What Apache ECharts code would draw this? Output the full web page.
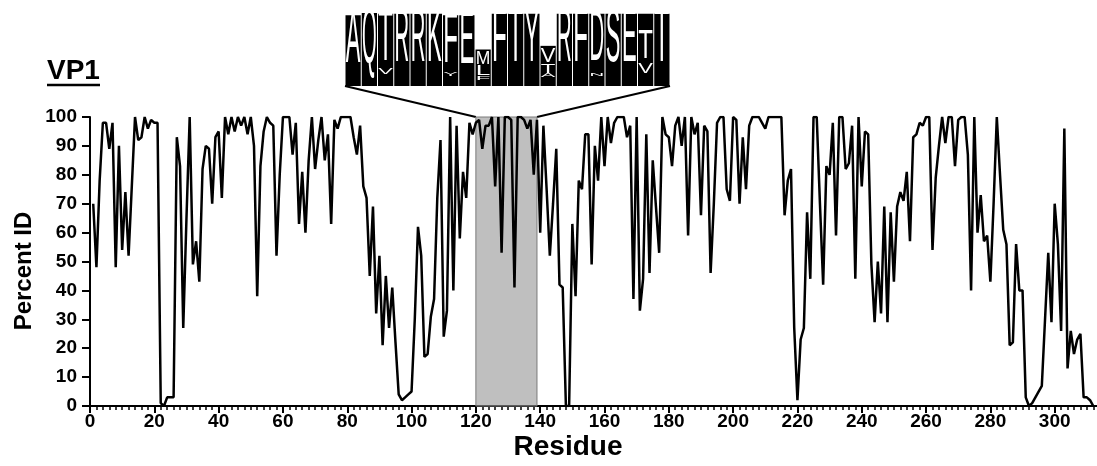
<!DOCTYPE html>
<html>
<head>
<meta charset="utf-8">
<script src="https://cdn.jsdelivr.net/npm/echarts@6/dist/echarts.min.js"></script>
<style>
  html, body { margin: 0; padding: 0; background: #fff; }
  #main { width: 1097px; height: 466px; }
</style>
</head>
<body>
<div id="main"></div>
<script>
// percent identity per residue, starting at residue 1
const firstResidue = 1;
const percentId = [
  70, 48, 78, 98, 98, 89, 98, 48, 90, 54, 74, 52, 76, 100, 92, 93, 100, 96, 99, 98,
  98, 1, 0, 3, 3, 3, 93, 83, 27, 65, 100, 49, 57, 43, 82, 90, 89, 70, 93, 95,
  72, 100, 94, 100, 95, 100, 97, 100, 94, 100, 90, 38, 83, 95, 100, 98, 97, 52, 80, 100,
  100, 100, 87, 98, 63, 81, 60, 85, 100, 82, 92, 100, 85, 94, 63, 99, 96, 100, 100, 100,
  100, 93, 87, 97, 76, 72, 45, 69, 32, 52, 21, 45, 27, 41, 22, 4, 2, 3, 4, 5,
  30, 62, 52, 17, 18, 31, 37, 72, 92, 24, 33, 100, 40, 97, 58, 81, 72, 98, 94, 98,
  99, 89, 97, 97, 100, 76, 100, 53, 100, 100, 99, 41, 100, 100, 99, 96, 99, 80, 99, 60,
  97, 75, 52, 70, 89, 42, 41, 0, 0, 63, 38, 78, 75, 94, 94, 49, 90, 78, 100, 83,
  100, 91, 98, 100, 100, 100, 93, 97, 37, 100, 33, 44, 94, 46, 85, 69, 53, 100, 94, 93,
  83, 97, 100, 90, 100, 59, 100, 94, 98, 66, 97, 95, 46, 70, 98, 100, 100, 75, 71, 100,
  99, 70, 93, 75, 97, 100, 100, 100, 98, 96, 100, 100, 100, 100, 100, 66, 78, 82, 27, 2,
  23, 27, 67, 44, 100, 100, 70, 42, 83, 80, 98, 59, 100, 100, 82, 84, 97, 44, 100, 76,
  95, 94, 49, 29, 50, 32, 69, 29, 67, 43, 69, 74, 71, 81, 57, 93, 94, 98, 97, 100,
  100, 54, 79, 90, 100, 91, 100, 100, 83, 99, 100, 100, 87, 40, 100, 60, 73, 57, 59, 43,
  70, 100, 80, 61, 56, 21, 22, 56, 40, 40, 3, 0, 1, 3, 5, 7, 30, 53, 29, 70,
  56, 26, 96, 13, 26, 18, 23, 25, 3, 3, 2, 0
];

// shaded window (residues) that the logo expands
const highlight = [120, 139];

const xTickStep = 20;
const yTickStep = 10;

// sequence logo for the highlighted window: stack top, then letters top->bottom [letter, height]
const logoColumns = [
  { top: 0.97, letters: [['A', 0.73]] },
  { top: 1.0, letters: [['Q', 0.78]] },
  { top: 0.99, letters: [['T', 0.72], ['', 0.04], ['V', 0.08]] },
  { top: 0.99, letters: [['R', 0.74]] },
  { top: 0.99, letters: [['R', 0.74]] },
  { top: 0.99, letters: [['K', 0.74]] },
  { top: 0.97, letters: [['F', 0.72], ['', 0.06], ['Y', 0.06]] },
  { top: 0.97, letters: [['E', 0.74]] },
  { top: 0.5, letters: [['', 0.04], ['M', 0.18], ['L', 0.14], ['F', 0.06]] },
  { top: 0.99, letters: [['F', 0.74]] },
  { top: 0.99, letters: [['T', 0.74]] },
  { top: 0.99, letters: [['Y', 0.74]] },
  { top: 0.55, letters: [['', 0.04], ['V', 0.2], ['', 0.02], ['T', 0.12], ['A', 0.06]] },
  { top: 0.99, letters: [['R', 0.74]] },
  { top: 0.99, letters: [['F', 0.74]] },
  { top: 0.99, letters: [['D', 0.72], ['', 0.1], ['N', 0.04]] },
  { top: 0.99, letters: [['S', 0.74]] },
  { top: 0.99, letters: [['E', 0.74]] },
  { top: 0.99, letters: [['', 0.25], ['T', 0.4], ['', 0.03], ['V', 0.15]] },
  { top: 0.99, letters: [['T', 0.74]] }
];

const font = "'Liberation Sans', Arial, Helvetica, sans-serif";
const logoFontSize = 40;
const measureCtx = document.createElement('canvas').getContext('2d');
measureCtx.font = logoFontSize + 'px ' + font;

const lineData = percentId.map((v, i) => [firstResidue + i, v]);

function renderLogo(params, api) {
  const idx = params.dataIndex;
  const col = logoColumns[idx];
  const base = api.coord([idx, 0]);
  const bandW = api.size([1, 0])[0];
  const yTop = api.coord([idx, col.top])[1];
  const children = [{
    type: 'rect',
    shape: { x: base[0] - bandW / 2 + 0.5, y: yTop, width: bandW - 1, height: base[1] - yTop },
    style: { fill: '#000' }
  }];
  let level = col.top;
  col.letters.forEach(([ch, h]) => {
    const a = api.coord([idx, level])[1];
    const b = api.coord([idx, level - h])[1];
    level -= h;
    if (!ch) return;
    const gw = measureCtx.measureText(ch).width;
    children.push({
      type: 'text',
      x: base[0],
      y: (a + b) / 2,
      scaleX: (bandW * 0.9) / gw,
      scaleY: (b - a) / (logoFontSize * 0.72),
      style: {
        text: ch, font: logoFontSize + 'px ' + font, fill: '#fff',
        align: 'center', verticalAlign: 'middle'
      }
    });
  });
  return { type: 'group', children: children };
}

const chart = echarts.init(document.getElementById('main'));

const option = {
  animation: false,
  grid: [
    // axis runs to 320 but the canvas edge cuts it at about residue 313
    { left: 90, width: 1029, top: 117, height: 289, outerBoundsMode: 'none', containLabel: false },
    { left: 345, top: 13, width: 325, height: 73, outerBoundsMode: 'none' }
  ],
  xAxis: [
    {
      type: 'value',
      gridIndex: 0,
      min: 0,
      max: 320,
      interval: xTickStep,
      splitLine: { show: false },
      axisLine: { lineStyle: { color: '#000', width: 2 } },
      axisTick: { length: 7, lineStyle: { color: '#000', width: 2 } },
      minorTick: { show: true, splitNumber: 10, length: 4, lineStyle: { color: '#000', width: 1.5 } },
      axisLabel: { color: '#000', fontFamily: font, fontWeight: 'bold', fontSize: 19, margin: 6 }
    },
    {
      type: 'category',
      gridIndex: 1,
      data: logoColumns.map((c, i) => i),
      show: false
    }
  ],
  yAxis: [
    {
      type: 'value',
      gridIndex: 0,
      min: 0,
      max: 100,
      interval: yTickStep,
      splitLine: { show: false },
      axisLine: { show: true, lineStyle: { color: '#000', width: 2 } },
      axisTick: { show: true, length: 8, lineStyle: { color: '#000', width: 2 } },
      axisLabel: { color: '#000', fontFamily: font, fontWeight: 'bold', fontSize: 19, margin: 13 }
    },
    { type: 'value', gridIndex: 1, min: 0, max: 1, show: false }
  ],
  series: [
    {
      type: 'line',
      xAxisIndex: 0,
      yAxisIndex: 0,
      data: lineData,
      showSymbol: false,
      lineStyle: { color: '#000', width: 2.5 },
      z: 2
    },
    {
      // shaded overlay on top of the trace
      type: 'line',
      xAxisIndex: 0,
      yAxisIndex: 0,
      data: [[highlight[0], 0]],
      showSymbol: false,
      lineStyle: { opacity: 0 },
      silent: true,
      z: 5,
      markArea: {
        silent: true,
        itemStyle: { color: 'rgba(128,128,128,0.5)', borderColor: '#7a7a7a', borderWidth: 1 },
        data: [[{ xAxis: highlight[0], yAxis: 0 }, { xAxis: highlight[1], yAxis: 100 }]]
      }
    },
    {
      type: 'custom',
      xAxisIndex: 1,
      yAxisIndex: 1,
      data: logoColumns.map((c, i) => [i, c.top]),
      renderItem: renderLogo,
      silent: true
    }
  ]
};

chart.setOption(option);

// connectors from the logo to the shaded window, title, axis names
const tl = chart.convertToPixel({ gridIndex: 0 }, [highlight[0], 100]);
const tr = chart.convertToPixel({ gridIndex: 0 }, [highlight[1], 100]);
const logoBottom = 86;
chart.setOption({
  graphic: [
    { type: 'line', shape: { x1: 345, y1: logoBottom, x2: tl[0], y2: tl[1] }, style: { stroke: '#000', lineWidth: 2 } },
    { type: 'line', shape: { x1: 670, y1: logoBottom, x2: tr[0], y2: tr[1] }, style: { stroke: '#000', lineWidth: 2 } },
    {
      type: 'text', x: 47, y: 57,
      style: { text: 'VP1', font: 'bold 28px ' + font, fill: '#000' }
    },
    { type: 'line', shape: { x1: 47, y1: 85, x2: 100, y2: 85 }, style: { stroke: '#000', lineWidth: 2.5 } },
    {
      type: 'text', x: 568, y: 447,
      style: { text: 'Residue', font: 'bold 28px ' + font, fill: '#000', align: 'center', verticalAlign: 'middle' }
    },
    {
      type: 'text', x: 24, y: 271, rotation: Math.PI / 2,
      style: { text: 'Percent ID', font: 'bold 24px ' + font, fill: '#000', align: 'center', verticalAlign: 'middle' }
    }
  ]
});
</script>
</body>
</html>
